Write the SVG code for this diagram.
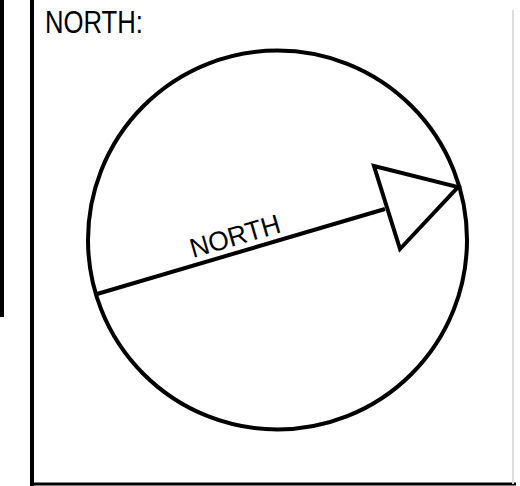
<svg xmlns="http://www.w3.org/2000/svg" width="520" height="486" viewBox="0 0 520 486">
<style>
.k{fill:none;stroke:#000;stroke-width:4;stroke-linejoin:miter}
.t{font-family:"Liberation Sans","DejaVu Sans",sans-serif;fill:#000}
</style>
<rect width="520" height="486" fill="#fff"/>
<g id="frame">
<line x1="2" y1="0" x2="2" y2="317" stroke="#000" stroke-width="4"/>
<line x1="32" y1="0" x2="32" y2="486" stroke="#000" stroke-width="4"/>
<line x1="30" y1="484" x2="516" y2="484" stroke="#000" stroke-width="3"/>
<line x1="513" y1="10" x2="513" y2="484" stroke="#ddd" stroke-width="2"/>
</g>
<g id="title"><text class="t" x="45" y="33" font-size="31" textLength="98" lengthAdjust="spacingAndGlyphs">NORTH:</text></g>
<g id="compass">
<circle class="k" cx="277.5" cy="240" r="189.5"/>
</g>
<g id="connectors">
<line class="k" x1="97" y1="294" x2="385" y2="209"/>
<polygon class="k" points="374,166 458,187 400,249"/>
</g>
<g id="label"><text class="t" transform="translate(193,258) rotate(-16.3)" font-size="27" textLength="93" lengthAdjust="spacingAndGlyphs">NORTH</text></g>
</svg>
